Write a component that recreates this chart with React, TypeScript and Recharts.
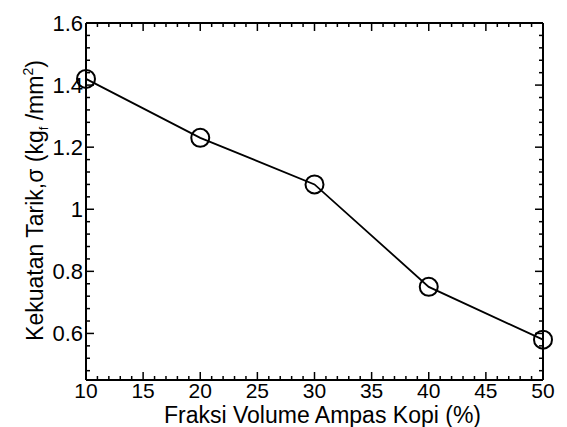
import React from 'react';
import { LineChart, Line, XAxis, YAxis } from 'recharts';

// data
const fraksi = [10, 20, 30, 40, 50];
const kekuatan = [1.42, 1.23, 1.08, 0.75, 0.58];

// tick labels (major) and minor tick steps
const xMajor = [10, 15, 20, 25, 30, 35, 40, 45, 50];
const yMajor = [0.6, 0.8, 1, 1.2, 1.4, 1.6];
const xTicks: number[] = [];
for (let v = 10; v <= 50; v++) xTicks.push(v);
const yTicks: number[] = [];
for (let k = 0; k <= 28; k++) yTicks.push(Math.round((0.48 + k * 0.04) * 100) / 100);

const data = fraksi.map((f, i) => ({ fraksi: f, kekuatan: kekuatan[i] }));

const FONT = '"Liberation Sans", Arial, sans-serif';
const isMajor = (list: number[], v: number) => list.some((m) => Math.abs(m - v) < 1e-6);

// bottom axis: inward ticks + labels
const BottomTick = (props: any) => {
  const { x, y, payload } = props;
  const major = isMajor(xMajor, payload.value);
  return (
    <g>
      <line x1={x} x2={x} y1={y} y2={y - (major ? 8 : 4)} stroke="#000" strokeWidth={1.5} />
      {major && (
        <text x={x} y={y + 18} textAnchor="middle" fontSize={21} fontFamily={FONT} fill="#000">
          {payload.value}
        </text>
      )}
    </g>
  );
};

const TopTick = (props: any) => {
  const { x, y, payload } = props;
  const major = isMajor(xMajor, payload.value);
  return <line x1={x} x2={x} y1={y} y2={y + (major ? 8 : 4)} stroke="#000" strokeWidth={1.5} />;
};

const LeftTick = (props: any) => {
  const { x, y, payload } = props;
  const major = isMajor(yMajor, payload.value);
  return (
    <g>
      <line x1={x} x2={x + (major ? 8 : 4)} y1={y} y2={y} stroke="#000" strokeWidth={1.5} />
      {major && (
        <text x={x - 3} y={y + 8} textAnchor="end" fontSize={22} fontFamily={FONT} fill="#000">
          {String(payload.value)}
        </text>
      )}
    </g>
  );
};

const RightTick = (props: any) => {
  const { x, y, payload } = props;
  const major = isMajor(yMajor, payload.value);
  return <line x1={x} x2={x - (major ? 8 : 4)} y1={y} y2={y} stroke="#000" strokeWidth={1.5} />;
};

const YLabel = (props: any) => {
  const { viewBox } = props;
  const cx = viewBox.x + 17;
  const cy = viewBox.y + viewBox.height / 2 - 1;
  return (
    <text
      x={cx}
      y={cy}
      transform={`rotate(-90 ${cx} ${cy})`}
      textAnchor="middle"
      fontSize={23}
      fontFamily={FONT}
      fill="#000"
    >
      Kekuatan Tarik,σ (kg
      <tspan fontSize={13} dy={5}>f</tspan>
      <tspan dy={-5}> /mm</tspan>
      <tspan fontSize={14} dy={-10}>2</tspan>
      <tspan dy={10}>)</tspan>
    </text>
  );
};

const XLabel = (props: any) => {
  const { viewBox } = props;
  return (
    <text
      x={viewBox.x + viewBox.width / 2 + 8}
      y={viewBox.y + 42.5}
      textAnchor="middle"
      fontSize={23}
      fontFamily={FONT}
      fill="#000"
    >
      Fraksi Volume Ampas Kopi (%)
    </text>
  );
};

export default function App() {
  return (
    <div style={{ position: 'absolute', left: 0, top: 0, background: '#fff' }}>
      <LineChart width={567} height={427} data={data} margin={{ top: 22, right: 23, bottom: 2, left: 26 }}>
        <XAxis
          dataKey="fraksi"
          type="number"
          domain={[10, 50]}
          ticks={xTicks}
          interval={0}
          tickSize={0}
          tickMargin={0}
          tickLine={false}
          tick={<BottomTick />}
          height={45}
          axisLine={{ stroke: '#000', strokeWidth: 2 }}
          label={<XLabel />}
        />
        <XAxis
          xAxisId="top"
          orientation="top"
          dataKey="fraksi"
          type="number"
          domain={[10, 50]}
          ticks={xTicks}
          interval={0}
          tickSize={0}
          tickMargin={0}
          tickLine={false}
          tick={<TopTick />}
          height={1}
          axisLine={{ stroke: '#000', strokeWidth: 2 }}
        />
        <YAxis
          type="number"
          domain={[0.45, 1.6]}
          ticks={yTicks}
          interval={0}
          tickSize={0}
          tickMargin={0}
          tickLine={false}
          tick={<LeftTick />}
          width={60}
          axisLine={{ stroke: '#000', strokeWidth: 2 }}
          label={<YLabel />}
        />
        <YAxis
          yAxisId="right"
          orientation="right"
          type="number"
          domain={[0.45, 1.6]}
          ticks={yTicks}
          interval={0}
          tickSize={0}
          tickMargin={0}
          tickLine={false}
          tick={<RightTick />}
          width={1}
          axisLine={{ stroke: '#000', strokeWidth: 2 }}
        />
        {/* invisible series so the mirrored top/right axes get their scales */}
        <Line
          xAxisId="top"
          yAxisId="right"
          dataKey="kekuatan"
          stroke="none"
          dot={false}
          activeDot={false}
          legendType="none"
          isAnimationActive={false}
        />
        <Line
          dataKey="kekuatan"
          stroke="#000"
          strokeWidth={1.8}
          dot={{ r: 9, fill: 'none', stroke: '#000', strokeWidth: 2 }}
          isAnimationActive={false}
        />
      </LineChart>
    </div>
  );
}
